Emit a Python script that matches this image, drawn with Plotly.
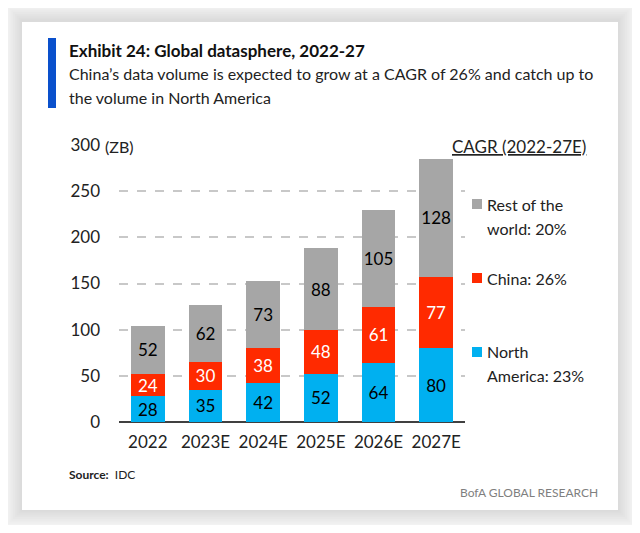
import plotly.graph_objects as go

# ---- data ----
categories = ["2022", "2023E", "2024E", "2025E", "2026E", "2027E"]
north_america = [28, 35, 42, 52, 64, 80]
china = [24, 30, 38, 48, 61, 77]
rest_of_world = [52, 62, 73, 88, 105, 128]
y_ticks = [0, 50, 100, 150, 200, 250, 300]
legend_lines = [["Rest of the", "world: 20%"], ["China: 26%"], ["North", "America: 23%"]]
subtitle_lines = ["China’s data volume is expected to grow at a CAGR of 26% and catch up to",
                  "the volume in North America"]

# ---- styling ----
FONT = "Lato"
C_NA = "#00b0f0"
C_CN = "#ff2a00"
C_ROW = "#a6a6a6"
TXT = "#222222"

OFF = 8  # browser default body margin
W_FIG, H_FIG = 640 - 2 * OFF, 533 - 2 * OFF
X0, X1, Y300, Y0 = 119, 457, 145, 414  # plot area in page pixels
L, R, T, B = X0 - OFF, (640 - OFF) - X1 - OFF, Y300 - OFF, (533 - OFF) - Y0 - OFF
PW, PH = W_FIG - L - R, H_FIG - T - B


def px(x):
    return (x - OFF - L) / PW


def py(y):
    return (T + PH - (y - OFF)) / PH


fig = go.Figure()
for name, vals, col, tcol in [
    ("North America", north_america, C_NA, "black"),
    ("China", china, C_CN, "white"),
    ("Rest of the world", rest_of_world, C_ROW, "black"),
]:
    fig.add_trace(go.Bar(
        x=categories, y=vals, name=name, marker=dict(color=col, line=dict(width=0)),
        text=[str(v) for v in vals], textposition="inside", insidetextanchor="middle",
        textangle=0, textfont=dict(family=FONT, size=17, color=tcol),
        width=0.58, showlegend=False, hoverinfo="skip",
    ))

shapes = []
# card shadow
for i in range(12, 0, -1):
    shapes.append(dict(type="rect", xref="paper", yref="paper", layer="below",
                       x0=px(22 - i * 1.8), x1=px(618 + i * 1.8), y0=py(510 + i * 1.8),
                       y1=py(22 - i * 1.8 - 1), fillcolor="rgba(0,0,0,0.012)", line=dict(width=0)))
shapes.append(dict(type="rect", xref="paper", yref="paper", layer="below",
                   x0=px(22), x1=px(618), y0=py(510), y1=py(22),
                   fillcolor="white", line=dict(width=0)))
# title accent bar
shapes.append(dict(type="rect", xref="paper", yref="paper",
                   x0=px(48), x1=px(56), y0=py(108), y1=py(38),
                   fillcolor="#0a50cc", line=dict(width=0)))
# legend squares
for col, yc in [(C_ROW, 204), (C_CN, 278), (C_NA, 352)]:
    shapes.append(dict(type="rect", xref="paper", yref="paper",
                       x0=px(472), x1=px(482), y0=py(yc + 5), y1=py(yc - 5),
                       fillcolor=col, line=dict(width=0)))

annotations = [
    dict(text="<b>Exhibit 24: Global datasphere, 2022-27</b>", x=px(67), y=py(50),
         font=dict(size=17, color="#111111")),
    dict(text="(ZB)", x=px(103), y=py(146), font=dict(size=16, color=TXT), bgcolor="white"),
    dict(text="<u>CAGR (2022-27E)</u>", x=px(450), y=py(146), font=dict(size=17, color=TXT),
         bgcolor="white"),
    dict(text="<b>Source:</b>  IDC", x=px(67), y=py(474), font=dict(size=12, color=TXT)),
    dict(text="BofA GLOBAL RESEARCH", x=px(600), y=py(492), xanchor="right",
         font=dict(size=12, color="#7f7f7f")),
]
for line, yc in zip(subtitle_lines, [74, 97]):
    annotations.append(dict(text=line, x=px(67), y=py(yc), font=dict(size=16, color=TXT)))
for lines, ys in zip(legend_lines, [[204, 228], [278], [351, 375]]):
    for line, yc in zip(lines, ys):
        annotations.append(dict(text=line, x=px(485), y=py(yc), font=dict(size=16, color=TXT)))

for a in annotations:
    a.setdefault("xanchor", "left")
    a.setdefault("yanchor", "middle")
    a.update(xref="paper", yref="paper", showarrow=False)
    a.setdefault("align", "left")
    a["font"].setdefault("family", FONT)

fig.update_layout(
    width=W_FIG, height=H_FIG,
    margin=dict(l=L, r=R, t=T, b=B, pad=0),
    paper_bgcolor="white", plot_bgcolor="rgba(0,0,0,0)",
    barmode="stack", bargap=0.42,
    font=dict(family=FONT, size=16, color=TXT),
    shapes=shapes, annotations=annotations,
    uniformtext=dict(minsize=17, mode="show"),
)
fig.update_xaxes(showgrid=False, showline=False, ticks="", ticklabelstandoff=8,
                 tickfont=dict(family=FONT, size=17, color=TXT), range=[-0.5, 5.5])
fig.update_yaxes(range=[0, 300], tickvals=y_ticks, showgrid=True, gridcolor="#c8c8c8",
                 griddash="dash", gridwidth=1.5, zeroline=True, zerolinecolor="#404040",
                 zerolinewidth=2, ticks="", ticklabelstandoff=18,
                 tickfont=dict(family=FONT, size=17, color=TXT))

fig.write_html("out.html")
